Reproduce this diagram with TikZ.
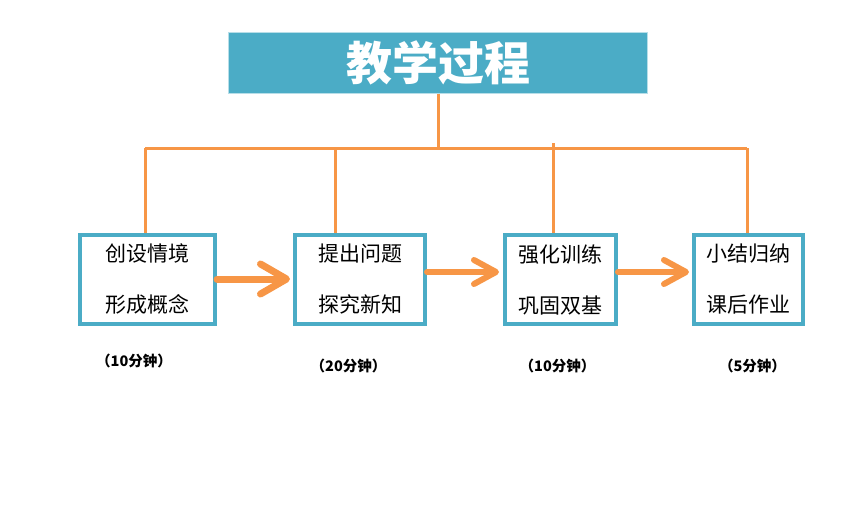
\documentclass[tikz,border=0pt]{standalone}
\usepackage{fontspec}
\newfontfamily\cjk{Noto Sans CJK SC}
\usepackage{tikz}
\usetikzlibrary{positioning}
\usetikzlibrary{arrows.meta}
\usepackage{xcolor}
\definecolor{titleblue}{HTML}{4BACC6}
\definecolor{lineorange}{HTML}{F79646}

\begin{document}
\begin{tikzpicture}[x=1pt, y=-1pt,
			stagebox/.style={draw=titleblue, line width=4pt, fill=white, minimum height=89pt, align=center, inner sep=0pt, font=\cjk\fontsize{21}{51}\selectfont},
			timelabel/.style={font=\cjk\bfseries\fontsize{14.5}{16}\selectfont, inner sep=0pt},
			bus/.style={draw=lineorange, line width=3pt},
			flow/.style={draw=lineorange, line width=6pt, line cap=round, -{Straight Barb[length=22pt, width=24pt, line cap=round, line join=round]}}]
			    		\useasboundingbox (0,0) rectangle (860,512);
			    		\node[fill=titleblue, draw=titleblue!40, line width=0.8pt, minimum width=419pt, minimum height=61pt, inner sep=0pt, text=white, font=\cjk\bfseries\fontsize{46}{50}\selectfont] (title) at (438,63) {教学过程};
			    		\node[stagebox, minimum width=135pt] (scene) at (147.5,279.5) {创设情境\\形成概念};
			    		\node[stagebox, minimum width=130pt] (explore) at (360,279.5) {提出问题\\探究新知};
			    		\node[stagebox, minimum width=111pt] (practice) at (560.5,279.5) {强化训练\\巩固双基};
			    		\node[stagebox, minimum width=109pt] (summary) at (748.5,279.5) {小结归纳\\课后作业};
			    		\coordinate (hub) at (438,148);
			    		\coordinate (b1) at (145,148);
			    		\coordinate (b2) at (335,148);
			    		\coordinate (b3) at (553,143);
			    		\coordinate (b4) at (747,148);
			    		\draw[bus] (title.south) -- (hub);
			    		\draw[bus] (b1) -- (b4);
			    		\draw[bus] (b1) -- (b1 |- scene.north);
			    		\draw[bus] (b2) -- (b2 |- explore.north);
			    		\draw[bus] (b3) -- (b3 |- practice.north);
			    		\draw[bus] (b4) -- (b4 |- summary.north);
			    		\draw[flow, line width=7pt, -{Straight Barb[length=26pt, width=30pt, line cap=round, line join=round]}] ([yshift=0.5pt]scene.east) -- ([xshift=-3pt, yshift=0.5pt]explore.west);
			    		\draw[flow] ([yshift=7.5pt]explore.east) -- ([xshift=-4pt, yshift=7.5pt]practice.west);
			    		\draw[flow] ([yshift=7.5pt]practice.east) -- ([xshift=-3pt, yshift=7.5pt]summary.west);
			    		\node[timelabel] (t1) at (134,361) {（10分钟）};
			    		\node[timelabel] (t2) at (348.5,366) {（20分钟）};
			    		\node[timelabel] (t3) at (557.5,366) {（10分钟）};
			    		\node[timelabel] (t4) at (752.5,366) {（5分钟）};
\end{tikzpicture}
\end{document}
